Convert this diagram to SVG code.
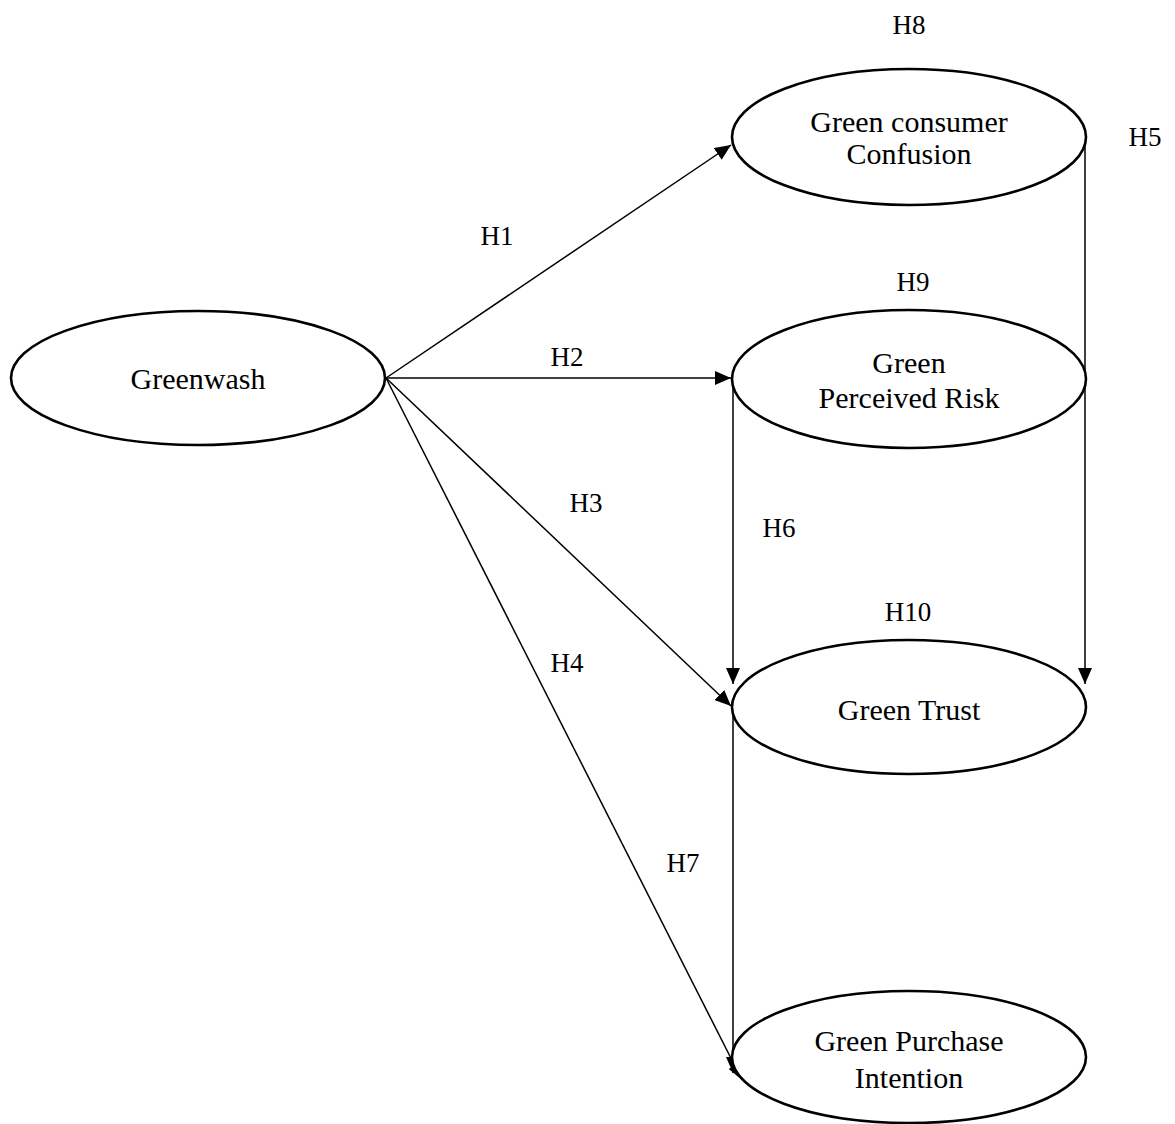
<svg xmlns="http://www.w3.org/2000/svg" width="1175" height="1124" viewBox="0 0 1175 1124">
<style>
.node{fill:#fff;stroke:#000;stroke-width:2.6}
.nt{font-family:"Liberation Serif","Times New Roman",serif;font-size:30px;fill:#000;text-anchor:middle}
.lb{font-family:"Liberation Serif","Times New Roman",serif;font-size:27px;fill:#000;text-anchor:middle}
.edge{stroke:#000;stroke-width:1.5;fill:none}
</style>
<defs>
<marker id="ah" viewBox="0 0 10 10" refX="10" refY="5" markerWidth="16" markerHeight="14" markerUnits="userSpaceOnUse" orient="auto" preserveAspectRatio="none">
<path d="M0,0 L10,5 L0,10 z" fill="#000"/>
</marker>
</defs>
<rect width="1175" height="1124" fill="#fff"/>
<g id="connectors">
<line class="edge" x1="386" y1="378" x2="731" y2="145" marker-end="url(#ah)"/>
<line class="edge" x1="386" y1="378" x2="731" y2="378" marker-end="url(#ah)"/>
<line class="edge" x1="386" y1="378" x2="731" y2="706" marker-end="url(#ah)"/>
<line class="edge" x1="386" y1="378" x2="742" y2="1080" marker-end="url(#ah)"/>
<line class="edge" x1="1085" y1="139" x2="1085" y2="684" marker-end="url(#ah)"/>
<line class="edge" x1="733" y1="378" x2="733" y2="684" marker-end="url(#ah)"/>
<line class="edge" x1="733" y1="707" x2="733" y2="1073" marker-end="url(#ah)"/>
</g>
<g id="greenwash">
<ellipse class="node" cx="198" cy="378" rx="187" ry="67"/>
<text class="nt" x="198" y="389">Greenwash</text>
</g>
<g id="confusion">
<ellipse class="node" cx="909" cy="137" rx="177" ry="68"/>
<text class="nt" x="909" y="132">Green consumer</text>
<text class="nt" x="909" y="164">Confusion</text>
</g>
<g id="risk">
<ellipse class="node" cx="909" cy="379" rx="177" ry="69"/>
<text class="nt" x="909" y="373">Green</text>
<text class="nt" x="909" y="408">Perceived Risk</text>
</g>
<g id="trust">
<ellipse class="node" cx="909" cy="707" rx="177" ry="67"/>
<text class="nt" x="909" y="720">Green Trust</text>
</g>
<g id="intention">
<ellipse class="node" cx="909" cy="1057" rx="177" ry="66"/>
<text class="nt" x="909" y="1051">Green Purchase</text>
<text class="nt" x="909" y="1088">Intention</text>
</g>
<g id="labels">
<text class="lb" x="909" y="34">H8</text>
<text class="lb" x="1145" y="146">H5</text>
<text class="lb" x="497" y="245">H1</text>
<text class="lb" x="913" y="291">H9</text>
<text class="lb" x="567" y="366">H2</text>
<text class="lb" x="586" y="512">H3</text>
<text class="lb" x="779" y="537">H6</text>
<text class="lb" x="908" y="621">H10</text>
<text class="lb" x="567" y="672">H4</text>
<text class="lb" x="683" y="872">H7</text>
</g>
</svg>
